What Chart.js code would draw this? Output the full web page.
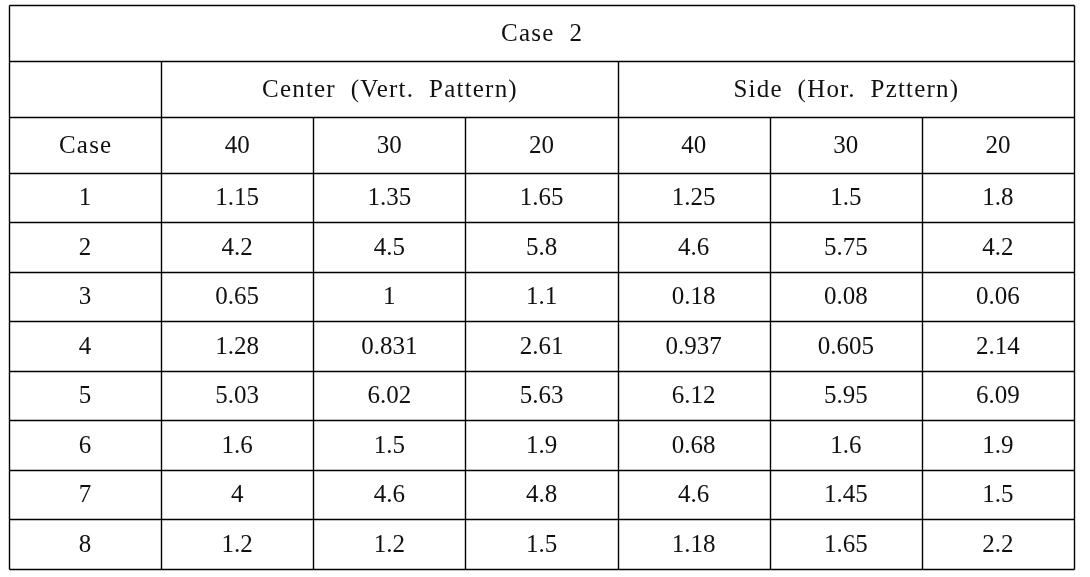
<!DOCTYPE html>
<html>
<head>
<meta charset="utf-8">
<script src="https://cdn.jsdelivr.net/npm/chart.js@4"></script>
<style>
  html, body { margin: 0; padding: 0; background: #fff; }
  #wrap { width: 1090px; height: 577px; }
</style>
</head>
<body>
<div id="wrap"><canvas id="table-chart"></canvas></div>
<script>
const title = 'Case  2';
const groups = ['Center  (Vert.  Pattern)', 'Side  (Hor.  Pzttern)'];
const caseHeader = 'Case';
const distances = ['40', '30', '20'];
const cases = ['1', '2', '3', '4', '5', '6', '7', '8'];

const center40 = [1.15, 4.2, 0.65, 1.28, 5.03, 1.6, 4, 1.2];
const center30 = [1.35, 4.5, 1, 0.831, 6.02, 1.5, 4.6, 1.2];
const center20 = [1.65, 5.8, 1.1, 2.61, 5.63, 1.9, 4.8, 1.5];
const side40 = [1.25, 4.6, 0.18, 0.937, 6.12, 0.68, 4.6, 1.18];
const side30 = [1.5, 5.75, 0.08, 0.605, 5.95, 1.6, 1.45, 1.65];
const side20 = [1.8, 4.2, 0.06, 2.14, 6.09, 1.9, 1.5, 2.2];

const columns = [center40, center30, center20, side40, side30, side20];

// row layout in y-scale units (data row = 1)
const HEAD = 1.1313;
const bodyTop = HEAD * 3;
const totalRows = bodyTop + cases.length;
const FONT = "25px 'Liberation Serif', 'DejaVu Serif', serif";

// one point per cell, text is attached to the point
const cellPoints = [];
cellPoints.push({ x: 3.5, y: HEAD / 2, t: title });
cellPoints.push({ x: 2.5, y: HEAD * 1.5, t: groups[0] });
cellPoints.push({ x: 5.5, y: HEAD * 1.5, t: groups[1] });
cellPoints.push({ x: 0.5, y: HEAD * 2.5, t: caseHeader });
for (let g = 0; g < 2; g++) {
  distances.forEach((d, i) => cellPoints.push({ x: 1.5 + g * 3 + i, y: HEAD * 2.5, t: d }));
}
cases.forEach((c, r) => {
  cellPoints.push({ x: 0.5, y: bodyTop + r + 0.5, t: c });
  columns.forEach((col, ci) => cellPoints.push({ x: 1.5 + ci, y: bodyTop + r + 0.5, t: String(col[r]) }));
});

const tablePlugin = {
  id: 'tableGrid',
  afterDatasetsDraw(chart) {
    const { ctx, scales: { x, y } } = chart;
    const px = v => Math.round(x.getPixelForValue(v)) + 0.5;
    const py = v => Math.round(y.getPixelForValue(v)) + 0.5;
    ctx.save();
    ctx.strokeStyle = '#000';
    ctx.lineWidth = 1.4;
    const hline = (yv, x0, x1) => { ctx.beginPath(); ctx.moveTo(px(x0), py(yv)); ctx.lineTo(px(x1), py(yv)); ctx.stroke(); };
    const vline = (xv, y0, y1) => { ctx.beginPath(); ctx.moveTo(px(xv), py(y0)); ctx.lineTo(px(xv), py(y1)); ctx.stroke(); };

    // horizontal rules
    hline(0, 0, 7);
    hline(HEAD, 0, 7);
    hline(HEAD * 2, 0, 7);
    for (let r = 0; r <= cases.length; r++) hline(bodyTop + r, 0, 7);

    // vertical rules
    vline(0, 0, totalRows);
    vline(7, 0, totalRows);
    vline(1, HEAD, totalRows);
    vline(4, HEAD, totalRows);
    [2, 3, 5, 6].forEach(c => vline(c, HEAD * 2, totalRows));

    // cell texts (words get a bit of tracking, numbers none)
    ctx.font = FONT;
    ctx.fillStyle = '#111';
    ctx.textAlign = 'center';
    ctx.textBaseline = 'middle';
    const meta = chart.getDatasetMeta(0);
    meta.data.forEach((pt, i) => {
      const t = cellPoints[i].t;
      const isWord = /[A-Za-z]/.test(t);
      ctx.letterSpacing = isWord ? '1.2px' : '0px';
      ctx.fillText(t, pt.x + (isWord ? 0.6 : 0), pt.y + 1);
    });
    ctx.restore();
  }
};

new Chart(document.getElementById('table-chart'), {
  type: 'scatter',
  data: {
    datasets: [{
      data: cellPoints.map(p => ({ x: p.x, y: p.y })),
      pointRadius: 0,
      pointHoverRadius: 0
    }]
  },
  options: {
    responsive: true, maintainAspectRatio: false,
    animation: false,
    events: [],
    layout: { padding: { left: 9, right: 16, top: 5, bottom: 8 } },
    plugins: { legend: { display: false }, tooltip: { enabled: false } },
    scales: {
      x: { type: 'linear', min: 0, max: 7, display: false },
      y: { type: 'linear', min: 0, max: totalRows, reverse: true, display: false }
    }
  },
  plugins: [tablePlugin]
});
</script>
</body>
</html>
